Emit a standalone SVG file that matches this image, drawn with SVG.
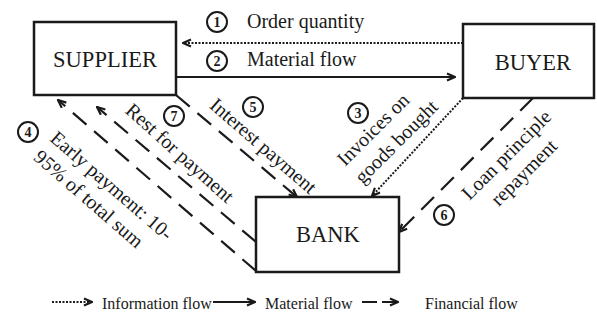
<svg xmlns="http://www.w3.org/2000/svg" width="597" height="323" viewBox="0 0 597 323">
<defs>
<marker id="ah" viewBox="0 0 10 10" refX="9" refY="5" markerWidth="10" markerHeight="10" markerUnits="userSpaceOnUse" orient="auto">
<path d="M1,1.5 L9,5 L1,8.5" fill="none" stroke="#1a1a1a" stroke-width="2.2"/>
</marker>
</defs>
<style>
.box{fill:#fff;stroke:#1a1a1a;stroke-width:2.5}
.nt{font-family:"Liberation Serif","Times New Roman",serif;font-size:22.5px;fill:#1a1a1a;text-anchor:middle}
.lb{font-family:"Liberation Serif","Times New Roman",serif;font-size:20px;fill:#1a1a1a}
.lg{font-family:"Liberation Serif","Times New Roman",serif;font-size:16px;fill:#1a1a1a}
.num circle{fill:#fff;stroke:#1a1a1a;stroke-width:2}
.num text{font-family:"Liberation Serif","Times New Roman",serif;font-size:14px;font-weight:bold;text-anchor:middle;fill:#1a1a1a}
.solid{stroke:#1a1a1a;stroke-width:2.2;fill:none;marker-end:url(#ah)}
.dot{stroke:#1a1a1a;stroke-width:2;stroke-dasharray:2 1.5;fill:none;marker-end:url(#ah)}
.dash{stroke:#1a1a1a;stroke-width:2.2;stroke-dasharray:18 10;fill:none;marker-end:url(#ah)}
</style>
<rect width="597" height="323" fill="#fff"/>
<g id="connectors">
<path class="dot" d="M463,43 L183,43"/>
<path class="solid" d="M176,77 L455,77"/>
<path class="dot" d="M463,98 L372,196"/>
<path class="dash" d="M256,271 L58,100"/>
<path class="dash" d="M256,242 L97,107"/>
<path class="dash" d="M176,95 L297,197"/>
<path class="dash" d="M533,98 L399,232"/>
</g>
<g id="supplier">
<rect class="box" x="34" y="22" width="142" height="73"/>
<text class="nt" x="105" y="67">SUPPLIER</text>
</g>
<g id="buyer">
<rect class="box" x="463" y="24" width="131" height="74"/>
<text class="nt" x="533" y="70">BUYER</text>
</g>
<g id="bank">
<rect class="box" x="256" y="197" width="143" height="75"/>
<text class="nt" x="328" y="242">BANK</text>
</g>
<g id="labels">
<text class="lb" x="247" y="28">Order quantity</text>
<text class="lb" x="247" y="66">Material flow</text>
<text class="lb" transform="translate(49 140) rotate(41)"><tspan x="0" y="0">Early payment: 10-</tspan><tspan x="0" y="25">95% of total sum</tspan></text>
<text class="lb" text-anchor="middle" transform="translate(175.5 158) rotate(42)">Rest for payment</text>
<text class="lb" text-anchor="middle" transform="translate(259 151) rotate(41)">Interest payment</text>
<text class="lb" transform="translate(345 167) rotate(-45)"><tspan x="0" y="0">Invoices on</tspan><tspan x="0" y="25">goods bought</tspan></text>
<text class="lb" text-anchor="middle" transform="translate(511 159.5) rotate(-45)"><tspan x="0" y="0">Loan principle</tspan><tspan x="0" y="25">repayment</tspan></text>
</g>
<g id="numbers" class="num">
<g><circle cx="217" cy="22" r="10"/><text x="217" y="27">1</text></g>
<g><circle cx="217" cy="61" r="10"/><text x="217" y="66">2</text></g>
<g><circle cx="358" cy="113" r="10"/><text x="358" y="118">3</text></g>
<g><circle cx="28" cy="132" r="10"/><text x="28" y="137">4</text></g>
<g><circle cx="253" cy="107" r="10"/><text x="253" y="112">5</text></g>
<g><circle cx="444" cy="215" r="10"/><text x="444" y="220">6</text></g>
<g><circle cx="174" cy="116" r="10"/><text x="174" y="121">7</text></g>
</g>
<g id="legend">
<path class="dot" d="M52,302 L92,302"/>
<text class="lg" x="102" y="309">Information flow</text>
<path class="solid" d="M213,302 L255,302"/>
<text class="lg" x="265" y="309">Material flow</text>
<path class="dash" style="stroke-dasharray:15 5" d="M362,302 L398,302"/>
<text class="lg" x="425" y="309">Financial flow</text>
</g>
</svg>
